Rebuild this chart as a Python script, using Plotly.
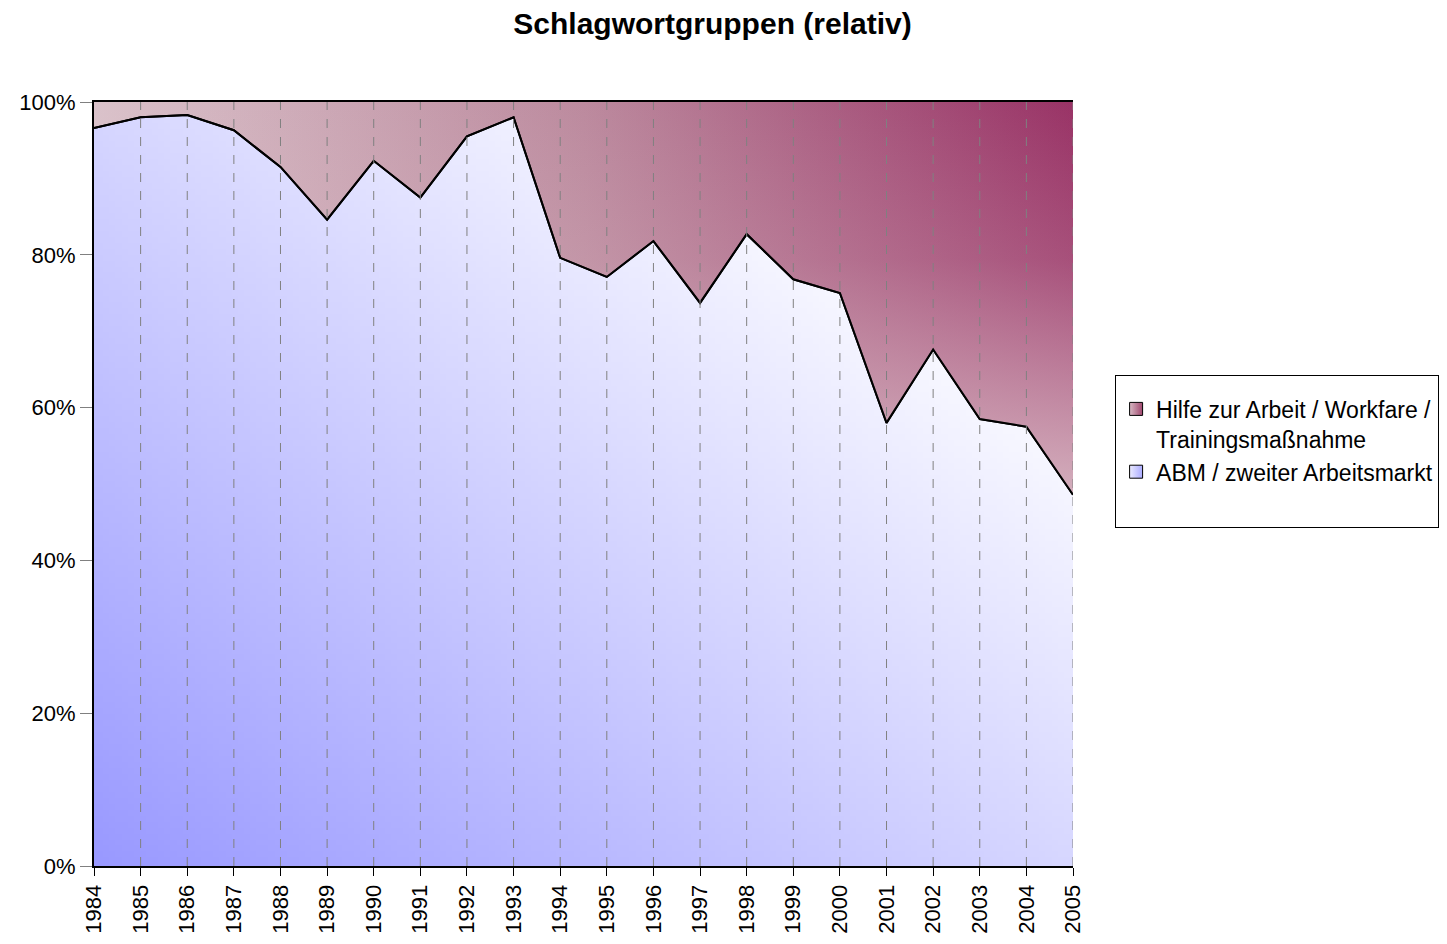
import base64, struct, zlib
import plotly.graph_objects as go

# ---------------- data ----------------
years = list(range(1984, 2006))
abm_share = [0.966, 0.980, 0.983, 0.963, 0.915, 0.846, 0.923, 0.875, 0.955, 0.980,
             0.796, 0.771, 0.818, 0.737, 0.827, 0.768, 0.750, 0.580, 0.676, 0.585,
             0.575, 0.486]
hilfe_total = [1.0] * len(years)
series_names = ["Hilfe zur Arbeit / Workfare /<br>Trainingsmaßnahme",
                "ABM / zweiter Arbeitsmarkt"]
title_text = "Schlagwortgruppen (relativ)"
y_ticks = [0, 0.2, 0.4, 0.6, 0.8, 1.0]

# ------------- diagonal gradient image for the blue area -------------
def png_data_uri(w, h, fn):
    raw = bytearray()
    for j in range(h):
        raw.append(0)
        for i in range(w):
            raw.extend(fn(i / (w - 1), 1 - j / (h - 1)))
    def chunk(tag, data):
        c = struct.pack(">I", len(data)) + tag + data
        return c + struct.pack(">I", zlib.crc32(tag + data) & 0xffffffff)
    png = b"\x89PNG\r\n\x1a\n"
    png += chunk(b"IHDR", struct.pack(">IIBBBBB", w, h, 8, 2, 0, 0, 0))
    png += chunk(b"IDAT", zlib.compress(bytes(raw), 9))
    png += chunk(b"IEND", b"")
    return "data:image/png;base64," + base64.b64encode(png).decode()

c0 = (153, 153, 255)
c1 = (255, 255, 255)
def blue_grad(u, v):
    t = min(1.0, (u + v) / 1.65)
    return bytes(int(round(a + (b - a) * t)) for a, b in zip(c0, c1))

blue_img = png_data_uri(160, 128, blue_grad)

fig = go.Figure()

# ABM boundary (base for fill)
fig.add_trace(go.Scatter(x=years, y=abm_share, mode="lines",
                         line=dict(color="black", width=2), showlegend=False,
                         hoverinfo="skip"))
# Hilfe area: horizontal gradient
fig.add_trace(go.Scatter(x=years, y=hilfe_total, mode="lines",
                         line=dict(width=0, color="rgba(0,0,0,0)"),
                         fill="tonexty",
                         fillgradient=dict(type="horizontal", start=years[0], stop=years[-1],
                                           colorscale=[[0, "rgb(218,194,202)"],
                                                       [0.5, "rgb(188,138,158)"],
                                                       [1, "rgb(153,51,102)"]]),
                         showlegend=False, hoverinfo="skip"))
# lightening overlay (vertical) to approximate diagonal gradient
fig.add_trace(go.Scatter(x=years, y=abm_share, mode="lines",
                         line=dict(width=0, color="rgba(0,0,0,0)"),
                         fill="tonexty",
                         fillgradient=dict(type="vertical", start=min(abm_share), stop=1.0,
                                           colorscale=[[0, "rgba(222,196,204,0.85)"],
                                                       [0.6, "rgba(222,196,204,0.2)"],
                                                       [1, "rgba(222,196,204,0)"]]),
                         showlegend=False, hoverinfo="skip"))
# crisp boundary line on top
fig.add_trace(go.Scatter(x=years, y=abm_share, mode="lines",
                         line=dict(color="black", width=2), showlegend=False,
                         hoverinfo="skip"))

# legend swatches
fig.add_trace(go.Scatter(x=[None], y=[None], mode="markers", name=series_names[0],
                         marker=dict(symbol="square", size=13, color="rgb(215,185,195)",
                                     gradient=dict(type="horizontal", color="rgb(160,70,110)"),
                                     line=dict(color="black", width=1))))
fig.add_trace(go.Scatter(x=[None], y=[None], mode="markers", name=series_names[1],
                         marker=dict(symbol="square", size=13, color="rgb(235,235,255)",
                                     gradient=dict(type="horizontal", color="rgb(170,170,255)"),
                                     line=dict(color="black", width=1))))
# empty spacer entry (reference legend box has blank space at the bottom)
fig.add_trace(go.Scatter(x=[None], y=[None], mode="lines", name=" ",
                         line=dict(width=0, color="rgba(0,0,0,0)"), hoverinfo="skip"))

# dashed vertical grid lines above the fills
shapes = []
for yr in years[1:]:
    shapes.append(dict(type="line", xref="x", yref="y", x0=yr, x1=yr, y0=0, y1=1,
                       line=dict(color="rgb(128,128,128)", width=1, dash="dash"),
                       layer="above"))

fig.update_layout(
    width=1431, height=928,
    margin=dict(l=86, r=366, t=94, b=70, autoexpand=False),
    paper_bgcolor="white", plot_bgcolor="white",
    font=dict(family="Liberation Sans, Arial, sans-serif", size=22, color="black"),
    title=dict(text="<b>" + title_text + "</b>", x=0.4923, xanchor="center",
               y=0.983, yanchor="middle", font=dict(size=30)),
    shapes=shapes,
    images=[dict(source=blue_img, xref="x", yref="y", x=years[0], y=1.0,
                 sizex=years[-1] - years[0], sizey=1.0, xanchor="left", yanchor="top",
                 sizing="stretch", layer="below")],
    legend=dict(x=1.043, y=0.643, xanchor="left", yanchor="top",
                bordercolor="black", borderwidth=1, bgcolor="white",
                font=dict(size=23), valign="top", tracegroupgap=6,
                traceorder="normal", itemwidth=30,
                title=dict(text=" ", font=dict(size=9))),
    xaxis=dict(range=[years[0], years[-1]], tickvals=years, ticktext=[str(y) for y in years],
               tickangle=-90, ticks="outside", ticklen=8, tickcolor="black",
               showgrid=False, zeroline=False, showline=True, linecolor="black",
               linewidth=2, mirror=True, layer="above traces", automargin=False),
    yaxis=dict(range=[0, 1], tickvals=y_ticks, tickformat=".0%", ticks="outside",
               ticklen=12, tickcolor="gray", showgrid=False, zeroline=False,
               showline=True, linecolor="black", linewidth=2, layer="above traces",
               automargin=False),
)

fig.write_html("out.html")
